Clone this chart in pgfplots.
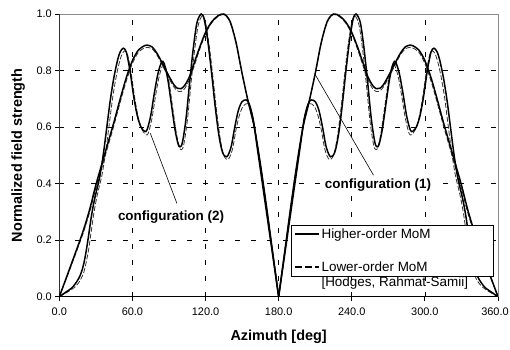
\documentclass[border=0pt]{standalone}
\usepackage{fontspec}
\setmainfont{Liberation Sans}
\usepackage{pgfplots}
\pgfplotsset{compat=1.18}
\begin{document}
\begin{tikzpicture}
\begin{axis}[
  name=ax,
  scale only axis, width=438.7bp, height=282.7bp,
  xmin=0, xmax=360, ymin=0, ymax=1,
  xtick={0,60,120,180,240,300,360},
  xticklabels={0.0,60.0,120.0,180.0,240.0,300.0,{\hspace*{-6bp}360.0}},
  ytick={0,0.2,0.4,0.6,0.8,1.0},
  yticklabels={0.0,0.2,0.4,0.6,0.8,1.0},
  xtick pos=bottom, ytick pos=left,
  tick align=outside, major tick length=4bp,
  tick style={black, line width=0.8bp},
  ticklabel style={font=\fontsize{11}{13}\selectfont},
  xticklabel style={yshift=-4bp},
  grid=major,
  major grid style={black, line width=0.6bp, dash pattern=on 5bp off 11bp},
  axis line style={black!45, line width=0.8bp},
  xlabel={Azimuth [deg]},
  ylabel={Normalized field strength},
  xlabel style={font=\bfseries\fontsize{14.5}{16}\selectfont, at={(axis description cs:0.5,-0.1556)}, anchor=base},
  ylabel style={font=\bfseries\fontsize{14.5}{16}\selectfont, at={(axis description cs:-0.094,0.5)}, anchor=center},
  legend style={at={(rel axis cs:0.5285,0.254)}, anchor=north west, draw=black, line width=0.8bp, fill=white,
    inner xsep=2bp, inner ysep=1bp, row sep=18bp, font=\fontsize{13.5}{15}\selectfont},
  legend cell align=left,
  legend image code/.code={\draw[#1] (0bp,0bp) -- (24bp,0bp);},
]
\addlegendimage{black, line width=1.2bp}
\addlegendentry{Higher-order MoM}
\addlegendimage{black, line width=2bp, dash pattern=on 7bp off 3bp}
\addlegendentry{\begin{tabular}[t]{@{}p{168bp}@{}}Lower-order MoM\\{}[Hodges, Rahmat-Samii]\end{tabular}}

% configuration (2), lower-order (dashed)
\addplot[forget plot, black!80, line width=0.8bp, dash pattern=on 5bp off 2bp, smooth, tension=0.5] coordinates {
(0,0) (5,0.012) (10,0.025) (13,0.035) (16,0.05) (18,0.065) (20,0.085) (22,0.12) (24,0.165) (26,0.225) (28,0.285) (30,0.335) (32,0.375) (35,0.43) (38,0.51) (41,0.61) (44,0.71) (47,0.785) (50,0.84) (52,0.862) (54,0.87) (56,0.857) (59,0.79) (62,0.70) (65,0.63) (68,0.59) (71,0.573) (73,0.578) (76,0.63) (79,0.71) (82,0.78) (85,0.82) (87,0.815) (90,0.76) (93,0.67) (96,0.58) (98.5,0.53) (100,0.52) (102,0.535) (105,0.62) (108,0.75) (111,0.87) (114,0.96) (117.3,0.993) (120,0.97) (123,0.89) (126,0.78) (129,0.66) (132,0.56) (135,0.5) (138.5,0.485) (142,0.52) (145,0.59) (148,0.645) (151,0.675) (154.5,0.683) (157,0.665) (160,0.61) (163,0.52) (166,0.43) (169,0.34) (172,0.25) (175,0.16) (178,0.07) (180,0)};
\addplot[forget plot, black!80, line width=0.8bp, dash pattern=on 5bp off 2bp, smooth, tension=0.5] coordinates {
(180,0) (182,0.07) (185,0.16) (188,0.25) (191,0.34) (194,0.43) (197,0.52) (200,0.61) (203,0.665) (205.5,0.683) (209,0.675) (212,0.645) (215,0.59) (218,0.52) (221.5,0.485) (225,0.5) (228,0.56) (231,0.66) (234,0.78) (237,0.89) (240,0.97) (242.7,0.993) (246,0.96) (249,0.87) (252,0.75) (255,0.62) (258,0.535) (260,0.52) (261.5,0.53) (264,0.58) (267,0.67) (270,0.76) (273,0.815) (275,0.82) (278,0.78) (281,0.71) (284,0.63) (287,0.578) (289,0.573) (292,0.59) (295,0.63) (298,0.70) (301,0.79) (304,0.857) (306,0.87) (308,0.862) (310,0.84) (313,0.785) (316,0.71) (319,0.61) (322,0.51) (325,0.43) (328,0.375) (330,0.335) (332,0.285) (334,0.225) (336,0.165) (338,0.12) (340,0.085) (342,0.065) (344,0.05) (347,0.035) (350,0.025) (355,0.012) (360,0)};
% configuration (1), lower-order (dashed)
\addplot[forget plot, black!80, line width=0.8bp, dash pattern=on 5bp off 2bp, smooth, tension=0.5] coordinates {
(0,0) (5,0.055) (10,0.112) (15,0.17) (20,0.23) (25,0.30) (30,0.383) (35,0.458) (40,0.533) (45,0.608) (50,0.688) (55,0.763) (60,0.825) (65,0.865) (70,0.88) (72,0.882) (76,0.877) (80,0.856) (85,0.815) (90,0.772) (94,0.742) (97,0.728) (100,0.726) (103,0.737) (107,0.77) (111,0.82) (115,0.872) (120,0.93) (125,0.968) (130,0.99) (135,0.998) (140,0.972) (145,0.897) (150,0.787) (155,0.69) (160,0.60) (165,0.47) (170,0.32) (175,0.16) (180,0)};
\addplot[forget plot, black!80, line width=0.8bp, dash pattern=on 5bp off 2bp, smooth, tension=0.5] coordinates {
(180,0) (185,0.16) (190,0.32) (195,0.47) (200,0.60) (205,0.69) (210,0.787) (215,0.897) (220,0.972) (225,0.998) (230,0.99) (235,0.968) (240,0.93) (245,0.872) (249,0.82) (253,0.77) (257,0.737) (260,0.726) (263,0.728) (266,0.742) (270,0.772) (275,0.815) (280,0.856) (284,0.877) (288,0.882) (290,0.88) (295,0.865) (300,0.825) (305,0.763) (310,0.688) (315,0.608) (320,0.533) (325,0.458) (330,0.383) (335,0.30) (340,0.23) (345,0.17) (350,0.112) (355,0.055) (360,0)};

% configuration (2), higher-order (solid)
\addplot[forget plot, black, line width=1.5bp, smooth, tension=0.5] coordinates {
(0,0) (5,0.015) (10,0.03) (13,0.045) (16,0.065) (18,0.085) (20,0.115) (22,0.16) (24,0.215) (26,0.275) (28,0.325) (30,0.365) (33,0.42) (36,0.5) (39,0.6) (42,0.7) (45,0.78) (48,0.84) (50,0.866) (52.5,0.879) (55,0.865) (58,0.8) (61,0.71) (64,0.64) (67,0.6) (70,0.585) (72,0.59) (75,0.64) (78,0.72) (81,0.79) (84,0.83) (86,0.825) (89,0.77) (92,0.68) (95,0.59) (97.5,0.54) (99,0.53) (101,0.545) (104,0.63) (107,0.76) (110,0.88) (113,0.97) (116.5,1.0) (119,0.98) (122,0.9) (125,0.79) (128,0.67) (131,0.57) (134,0.51) (137.5,0.495) (141,0.53) (144,0.6) (147,0.66) (150,0.69) (153.5,0.696) (156,0.68) (159,0.63) (162,0.54) (165,0.45) (168,0.36) (171,0.27) (174,0.18) (177,0.09) (180,0)};
\addplot[forget plot, black, line width=1.5bp, smooth, tension=0.5] coordinates {
(180,0) (183,0.09) (186,0.18) (189,0.27) (192,0.36) (195,0.45) (198,0.54) (201,0.63) (204,0.68) (206.5,0.696) (210,0.69) (213,0.66) (216,0.6) (219,0.53) (222.5,0.495) (226,0.51) (229,0.57) (232,0.67) (235,0.79) (238,0.9) (241,0.98) (243.5,1.0) (247,0.97) (250,0.88) (253,0.76) (256,0.63) (259,0.545) (261,0.53) (262.5,0.54) (265,0.59) (268,0.68) (271,0.77) (274,0.825) (276,0.83) (279,0.79) (282,0.72) (285,0.64) (288,0.59) (290,0.585) (293,0.6) (296,0.64) (299,0.71) (302,0.8) (305,0.865) (307.5,0.879) (310,0.866) (312,0.84) (315,0.78) (318,0.7) (321,0.6) (324,0.5) (327,0.42) (330,0.365) (332,0.325) (334,0.275) (336,0.215) (338,0.16) (340,0.115) (342,0.085) (344,0.065) (347,0.045) (350,0.03) (355,0.015) (360,0)};
% configuration (1), higher-order (solid)
\addplot[forget plot, black, line width=1.5bp, smooth, tension=0.5] coordinates {
(0,0) (5,0.058) (10,0.117) (15,0.176) (20,0.238) (25,0.31) (30,0.395) (35,0.47) (40,0.545) (45,0.62) (50,0.70) (55,0.775) (60,0.835) (65,0.873) (70,0.888) (72,0.89) (76,0.884) (80,0.862) (85,0.822) (90,0.78) (94,0.75) (97,0.737) (100,0.736) (103,0.748) (107,0.78) (111,0.83) (115,0.88) (120,0.935) (125,0.972) (130,0.993) (135,1.0) (140,0.975) (145,0.90) (150,0.79) (155,0.69) (160,0.60) (165,0.47) (170,0.32) (175,0.16) (180,0)};
\addplot[forget plot, black, line width=1.5bp, smooth, tension=0.5] coordinates {
(180,0) (185,0.16) (190,0.32) (195,0.47) (200,0.60) (205,0.69) (210,0.79) (215,0.90) (220,0.975) (225,1.0) (230,0.993) (235,0.972) (240,0.935) (245,0.88) (249,0.83) (253,0.78) (257,0.748) (260,0.736) (263,0.737) (266,0.75) (270,0.78) (275,0.822) (280,0.862) (284,0.884) (288,0.89) (290,0.888) (295,0.873) (300,0.835) (305,0.775) (310,0.70) (315,0.62) (320,0.545) (325,0.47) (330,0.395) (335,0.31) (340,0.238) (345,0.176) (350,0.117) (355,0.058) (360,0)};

\draw[black, line width=1.2bp] (rel axis cs:0,1) -- (rel axis cs:0,0) -- (rel axis cs:1,0);
\draw[black, line width=0.6bp] (axis cs:210.2,0.784) -- (axis cs:257.8,0.43);
\draw[black, line width=0.6bp] (axis cs:74.7,0.578) -- (axis cs:96.5,0.33);
\node[font=\bfseries\fontsize{13.5}{15}\selectfont, fill=white, inner sep=1bp] at (axis cs:261.5,0.395) {configuration (1)};
\node[font=\bfseries\fontsize{13.5}{15}\selectfont, fill=white, inner sep=1bp] at (axis cs:91.7,0.283) {configuration (2)};
\end{axis}
\pgfresetboundingbox
\path[use as bounding box] (ax.south west) ++(-59.3bp,-53.3bp) rectangle ++(510bp,350bp);
\end{tikzpicture}
\end{document}
